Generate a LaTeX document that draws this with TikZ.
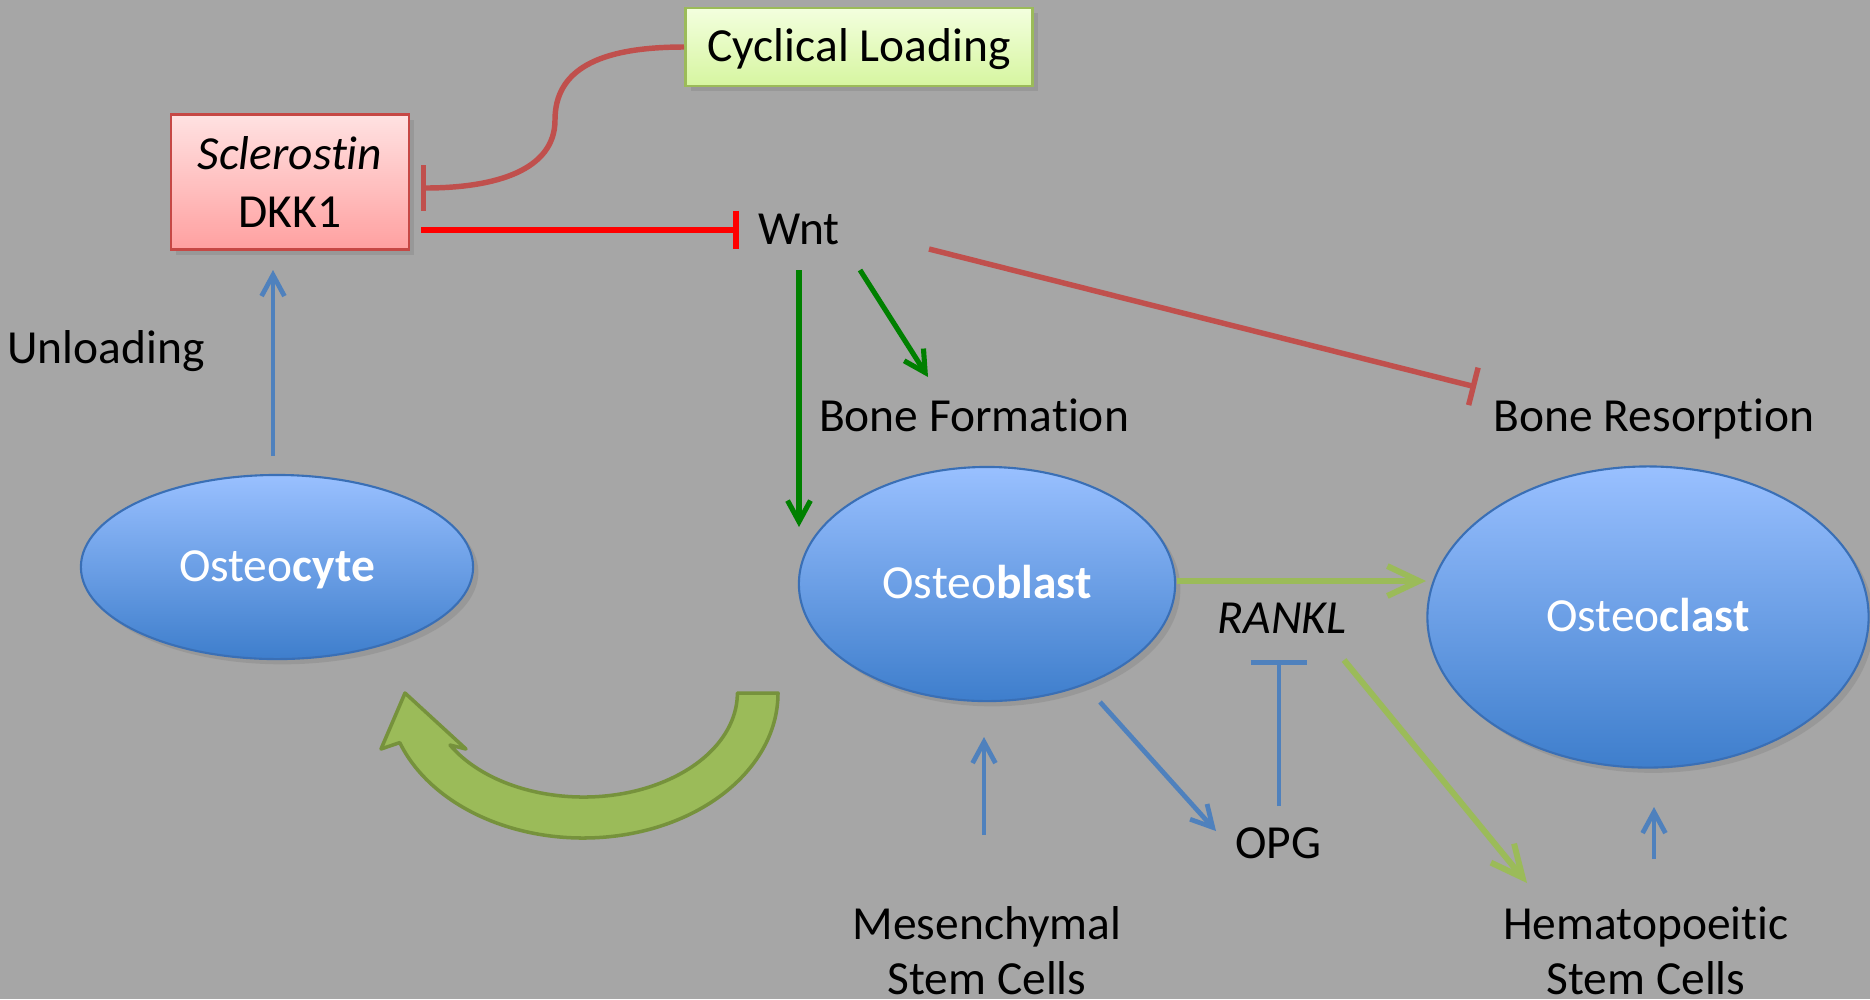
\documentclass[tikz,border=0pt]{standalone}
\usepackage{fontspec}
\setmainfont{Carlito}[Ligatures=NoCommon]
\usetikzlibrary{arrows.meta,shapes.geometric,shadows,calc}
\definecolor{bg}{HTML}{A6A6A6}
\definecolor{darkred}{HTML}{C0504D}
\definecolor{pureRed}{HTML}{FF0000}
\definecolor{dkgreen}{HTML}{008000}
\definecolor{ltgreen}{HTML}{9BBB59}
\definecolor{olive}{HTML}{76923C}
\definecolor{arrowblue}{HTML}{4F81BD}
\definecolor{ellTop}{RGB}{153,192,255}
\definecolor{ellBot}{RGB}{62,126,204}
\definecolor{ellLine}{HTML}{3A6FB5}
\definecolor{pinkTop}{RGB}{255,226,226}
\definecolor{pinkBot}{RGB}{255,160,160}
\definecolor{limeTop}{RGB}{243,255,222}
\definecolor{limeBot}{RGB}{214,245,160}
\tikzset{
  shadowed/.style={drop shadow={opacity=0.35,shadow xshift=1.5pt,shadow yshift=-1.5pt}},
  oneline/.style={text height=0.9em,text depth=0.05em},
  cell/.style={ellipse,draw=ellLine,line width=0.6pt,top color=ellTop,bottom color=ellBot,
    text=white,inner sep=0pt,shadowed,oneline},
  lbl/.style={inner sep=0pt,text=black,oneline},
  lbltwo/.style={inner sep=0pt,text=black,align=center,font=\fontsize{13.5}{15.6}\selectfont},
  bluearrow/.style={draw=arrowblue,line width=1.35pt,-{Straight Barb[length=6pt,width=6.5pt]}},
  blueinhib/.style={draw=arrowblue,line width=1.35pt,-{Bar[width=16pt]}},
  dkgarrow/.style={draw=dkgreen,line width=1.45pt,-{Straight Barb[length=6pt,width=6.5pt]}},
  ltgarrow/.style={draw=ltgreen,line width=1.7pt,-{Straight Barb[length=9pt,width=8.5pt]}},
  redinhib/.style={draw=pureRed,line width=1.65pt,-{Bar[width=11pt]}},
  drinhib/.style={draw=darkred,line width=1.55pt,-{Bar[width=13pt]}},
}
\begin{document}
\begin{tikzpicture}[x=0.01cm,y=-0.01cm,font=\fontsize{13.5}{16.5}\selectfont]
\fill[bg] (0,0) rectangle (1870,999);
\useasboundingbox (0,0) rectangle (1870,999);

% boxes
\node[draw=ltgreen,line width=0.8pt,top color=limeTop,bottom color=limeBot,oneline,
  minimum width=3.47cm,minimum height=0.78cm,inner sep=0pt,shadowed] (cl) at (859,47) {Cyclical Loading};
\node[draw=darkred!90!red,line width=0.8pt,top color=pinkTop,bottom color=pinkBot,
  minimum width=2.38cm,minimum height=1.35cm,inner sep=0pt,align=center,shadowed,
  font=\fontsize{13.5}{16.5}\selectfont] (scl) at (290,182) {\textit{Sclerostin}\\DKK1};

% labels
\node[lbl] (wnt) at (799,230) {Wnt};
\node[lbl] (unl) at (106,349) {Unloading};
\node[lbl] (bf) at (974,417) {Bone Formation};
\node[lbl] (br) at (1654,417) {Bone Resorption};
\node[lbl] (rankl) at (1282,619) {\textit{RANKL}};
\node[lbl] (opg) at (1278,844) {OPG};
\node[lbltwo] (msc) at (987,951) {Mesenchymal\\Stem Cells};
\node[lbltwo] (hsc) at (1646,951) {Hematopoeitic\\Stem Cells};

% cells
\node[cell,minimum width=3.92cm,minimum height=1.84cm] (ocy) at (277,567) {Osteo\textbf{cyte}};
\node[cell,minimum width=3.76cm,minimum height=2.34cm] (obl) at (987,584) {Osteo\textbf{blast}};
\node[cell,minimum width=4.41cm,minimum height=3.01cm] (ocl) at (1648,617) {Osteo\textbf{clast}};

% curved block arrow
\draw[fill=ltgreen,draw=olive,line width=1pt,line join=round]
  (778,693) arc[start angle=0,end angle=160,x radius=195,y radius=145]
  -- (381,749) -- (405,693) -- (466,749) -- (450,745)
  arc[start angle=150,end angle=0,x radius=154,y radius=104] -- cycle;

% connectors
\draw[redinhib] ($(scl)+(131,48)$) -- ($(wnt)+(-60,0)$);
\draw[drinhib] (cl.west) .. controls +(-86,0) and +(0,-50) .. ($(scl)+(265,-62)$)
  .. controls +(0,50) and +(75,0) .. ($(scl)+(131,6)$);
\draw[drinhib,-{Bar[width=11pt]}] ($(wnt)+(130,19)$) -- ($(br)+(-178,-30)$);
\draw[dkgarrow] ($(wnt)+(0,40)$) -- ($(obl)+(-188,-57)$);
\draw[dkgarrow] ($(wnt)+(61,40)$) -- ($(bf)+(-46,-40)$);
\draw[bluearrow] ($(ocy)+(-4,-111)$) -- ($(scl)+(-17,88)$);
\draw[ltgarrow] ($(obl)+(190,-3)$) -- ($(ocl)+(-222,-36)$);
\draw[ltgarrow] ($(rankl)+(62,41)$) -- ($(hsc)+(-119,-68)$);
\draw[bluearrow] ($(obl)+(113,118)$) -- ($(opg)+(-62,-13)$);
\draw[blueinhib] ($(opg)+(1,-38)$) -- ($(rankl)+(-3,41)$);
\draw[bluearrow] ($(msc)+(-3,-116)$) -- ($(obl)+(-3,153)$);
\draw[bluearrow] ($(hsc)+(8,-92)$) -- ($(ocl)+(6,190)$);
\end{tikzpicture}
\end{document}
